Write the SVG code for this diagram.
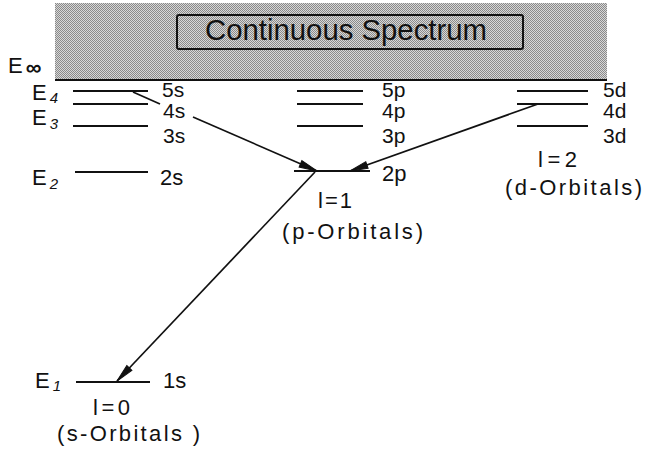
<svg xmlns="http://www.w3.org/2000/svg" width="648" height="450" viewBox="0 0 648 450">
<style>
text{font-family:"Liberation Sans","DejaVu Sans",sans-serif;fill:#111}
.lbl{font-size:21px}
.big{font-size:22px}
.e{font-size:22px}
.sub{font-size:15px;font-style:italic}
.lev{stroke:#111;stroke-width:2;fill:none}
.con{stroke:#111;stroke-width:1.7;fill:none}
</style>
<defs>
<pattern id="dots" width="2" height="2" patternUnits="userSpaceOnUse">
<rect width="2" height="2" fill="#d8d8d8"/>
<rect width="1" height="1" fill="#8a8a8a"/>
<rect x="1" y="1" width="1" height="1" fill="#8a8a8a"/>
</pattern>
<marker id="ah" markerWidth="20" markerHeight="10" refX="18" refY="5" orient="auto" markerUnits="userSpaceOnUse" overflow="visible">
<path d="M0,1.5 L18,5 L0,8.5 z" fill="#111" stroke="#111" stroke-width="1"/>
</marker>
</defs>

<g id="continuum">
<rect x="55" y="3" width="552" height="77" fill="url(#dots)"/>
<line x1="55" y1="80" x2="607" y2="80" stroke="#111" stroke-width="2"/>
<rect x="177" y="15" width="346" height="34" rx="2" fill="url(#dots)" stroke="#111" stroke-width="2"/>
<text x="205" y="40" style="font-size:29px" textLength="282" lengthAdjust="spacingAndGlyphs">Continuous Spectrum</text>
</g>

<g id="energies">
<text class="e" x="8" y="73">E<tspan style="font-size:22px;font-weight:bold" dx="3" dy="2">∞</tspan></text>
<text class="e" x="32" y="100">E<tspan class="sub" dx="3" dy="3">4</tspan></text>
<text class="e" x="32" y="125">E<tspan class="sub" dx="3" dy="4">3</tspan></text>
<text class="e" x="32" y="185">E<tspan class="sub" dx="3" dy="4">2</tspan></text>
<text class="e" x="35" y="388">E<tspan class="sub" dx="3" dy="3">1</tspan></text>
</g>

<g id="s-levels">
<line class="lev" x1="73" y1="91" x2="148" y2="91"/>
<line class="lev" x1="73" y1="104" x2="148" y2="104"/>
<line class="lev" x1="73" y1="126" x2="148" y2="126"/>
<line class="lev" x1="75" y1="172" x2="148" y2="172"/>
<line class="lev" x1="76" y1="382" x2="150" y2="382"/>
<text class="lbl" x="162" y="97">5s</text>
<text class="lbl" x="163" y="118">4s</text>
<text class="lbl" x="163" y="143">3s</text>
<text class="big" x="160" y="185">2s</text>
<text class="big" x="163" y="388">1s</text>
<text class="big" x="93" y="415" textLength="37" lengthAdjust="spacing">l = 0</text>
<text class="big" x="57" y="441" textLength="143" lengthAdjust="spacing">(s-Orbitals )</text>
</g>

<g id="p-levels">
<line class="lev" x1="297" y1="91" x2="363" y2="91"/>
<line class="lev" x1="297" y1="104" x2="363" y2="104"/>
<line class="lev" x1="297" y1="126" x2="363" y2="126"/>
<line class="lev" x1="294" y1="171" x2="370" y2="171"/>
<text class="lbl" x="382" y="97">5p</text>
<text class="lbl" x="382" y="118">4p</text>
<text class="lbl" x="382" y="143">3p</text>
<text class="big" x="382" y="181">2p</text>
<text class="big" x="318" y="208" textLength="34" lengthAdjust="spacing">l = 1</text>
<text class="big" x="282" y="239" textLength="141" lengthAdjust="spacing">(p-Orbitals)</text>
</g>

<g id="d-levels">
<line class="lev" x1="517" y1="91" x2="588" y2="91"/>
<line class="lev" x1="517" y1="104" x2="588" y2="104"/>
<line class="lev" x1="517" y1="126" x2="588" y2="126"/>
<text class="lbl" x="603" y="97">5d</text>
<text class="lbl" x="603" y="118">4d</text>
<text class="lbl" x="603" y="143">3d</text>
<text class="big" x="538" y="167" textLength="39" lengthAdjust="spacing">l = 2</text>
<text class="big" x="505" y="195" textLength="137" lengthAdjust="spacing">(d-Orbitals)</text>
</g>

<g id="connectors">
<line class="con" x1="133" y1="92" x2="160" y2="104"/>
<line class="con" x1="193" y1="117" x2="317" y2="171" marker-end="url(#ah)"/>
<line class="con" x1="538" y1="104" x2="350" y2="171" marker-end="url(#ah)"/>
<line class="con" x1="315" y1="172" x2="117" y2="381" marker-end="url(#ah)"/>
</g>
</svg>
